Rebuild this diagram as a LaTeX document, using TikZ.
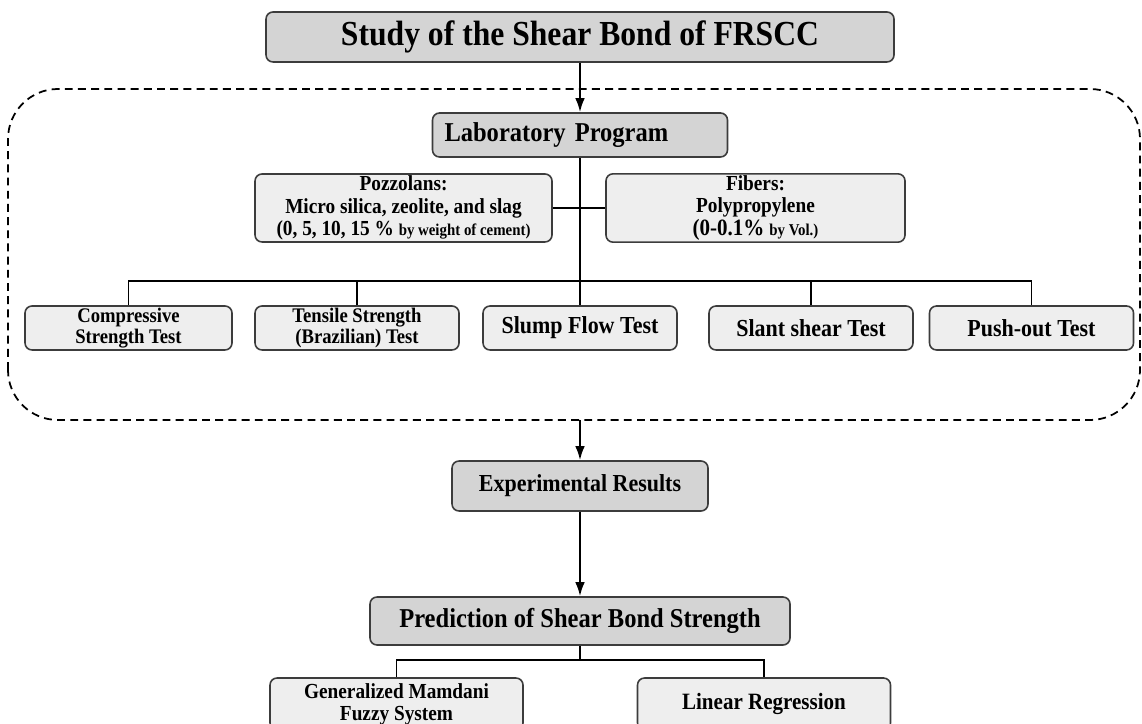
\documentclass[tikz,border=0pt]{standalone}
\usepackage{fontspec}
\setmainfont{Liberation Serif}[FakeStretch=0.9]
\usetikzlibrary{arrows.meta}
\definecolor{maingray}{RGB}{212,212,212}
\definecolor{subgray}{RGB}{238,238,238}
\definecolor{edgegray}{RGB}{60,60,60}

\begin{document}
\begin{tikzpicture}[
    mainbox/.style={draw=edgegray, fill=maingray, rounded corners=4pt, line width=0.9pt, align=center, inner sep=1pt},
    subbox/.style={draw=edgegray, fill=subgray, rounded corners=4pt, line width=0.9pt, align=center, inner sep=1pt},
    link/.style={line width=1.1pt},
    arrow/.style={line width=1.1pt, -{Latex[length=8pt,width=5.5pt]}}
]
    \useasboundingbox (0,0) rectangle (22.84,14.46);
    \clip (0,0) rectangle (22.84,14.46);

    % Draw the dashed frame of the laboratory program
    \draw[line width=1pt, dash pattern=on 4.5pt off 3pt, rounded corners=1cm] (0.16,6.06) rectangle (22.8,12.68);
    \coordinate (progout) at (11.6,6.06);

    % Draw main boxes
    \node[mainbox, minimum width=12.56cm, minimum height=1cm, font=\fontsize{20}{22}\selectfont\bfseries] (study) at (11.6,13.72) {Study of the Shear Bond of FRSCC};
    \node[mainbox, inner xsep=0.24cm, text width=5.42cm, align=left, minimum height=0.88cm, font=\fontsize{15.5}{17}\selectfont\bfseries] (lab) at (11.6,11.76) {Laboratory Program};

    % Draw material boxes
    \node[subbox, minimum width=5.94cm, minimum height=1.36cm, font=\fontsize{12.2}{12.8}\selectfont\bfseries] (pozz) at (8.07,10.3)
        {Pozzolans:\\Micro silica, zeolite, and slag\\(0, 5, 10, 15 \% {\fontsize{9.4}{10}\selectfont by weight of cement)}};
    \node[subbox, minimum width=5.98cm, minimum height=1.36cm, font=\fontsize{12.2}{12.8}\selectfont\bfseries] (fib) at (15.11,10.3)
        {Fibers:\\Polypropylene\\{\fontsize{13.3}{12.8}\selectfont(0-0.1\%} {\fontsize{9.4}{10}\selectfont by Vol.)}};

    % Draw test boxes
    \node[subbox, minimum width=4.14cm, minimum height=0.88cm, font=\fontsize{11.8}{11.8}\selectfont\bfseries] (comp) at (2.57,7.9) {Compressive\\Strength Test};
    \node[subbox, minimum width=4.08cm, minimum height=0.88cm, font=\fontsize{11.8}{11.8}\selectfont\bfseries] (tens) at (7.14,7.9) {Tensile Strength\\(Brazilian) Test};
    \node[subbox, minimum width=3.88cm, minimum height=0.88cm, font=\fontsize{13.9}{15}\selectfont\bfseries] (slump) at (11.6,7.9) {Slump Flow Test};
    \node[subbox, minimum width=4.08cm, minimum height=0.88cm, font=\fontsize{13.9}{15}\selectfont\bfseries] (slant) at (16.22,7.9) {Slant shear Test};
    \node[subbox, minimum width=4.08cm, minimum height=0.88cm, font=\fontsize{13.9}{15}\selectfont\bfseries] (push) at (20.63,7.9) {Push-out Test};
    \coordinate (testbus) at (11.6,8.84);

    % Draw result and prediction boxes
    \node[mainbox, minimum width=5.12cm, minimum height=1cm, font=\fontsize{13.9}{15}\selectfont\bfseries] (exp) at (11.6,4.74) {Experimental Results};
    \node[mainbox, minimum width=8.4cm, minimum height=0.96cm, font=\fontsize{15.5}{17}\selectfont\bfseries] (pred) at (11.6,2.04) {Prediction of Shear Bond Strength};
    \coordinate (predbus) at (11.6,1.26);

    % Draw model boxes
    \node[subbox, minimum width=5.06cm, minimum height=1.04cm, font=\fontsize{12.2}{12.5}\selectfont\bfseries] (gen) at (7.93,0.38) {Generalized Mamdani\\Fuzzy System};
    \node[subbox, minimum width=5.06cm, minimum height=1.04cm, font=\fontsize{13.3}{15}\selectfont\bfseries] (lin) at (15.28,0.38) {Linear Regression};

    % Draw connectors
    \draw[arrow] (study) -- (lab);
    \draw[link] (lab) -- (slump);
    \draw[link] (pozz) -- (fib);
    \draw[link] (comp.north) |- (testbus) -| (push.north);
    \draw[link] (tens.north) |- (testbus);
    \draw[link] (slant.north) |- (testbus);
    \draw[arrow] (progout) -- (exp);
    \draw[arrow] (exp) -- (pred);
    \draw[link] (pred) -- (predbus);
    \draw[link] (gen.north) |- (predbus) -| (lin.north);
\end{tikzpicture}
\end{document}
